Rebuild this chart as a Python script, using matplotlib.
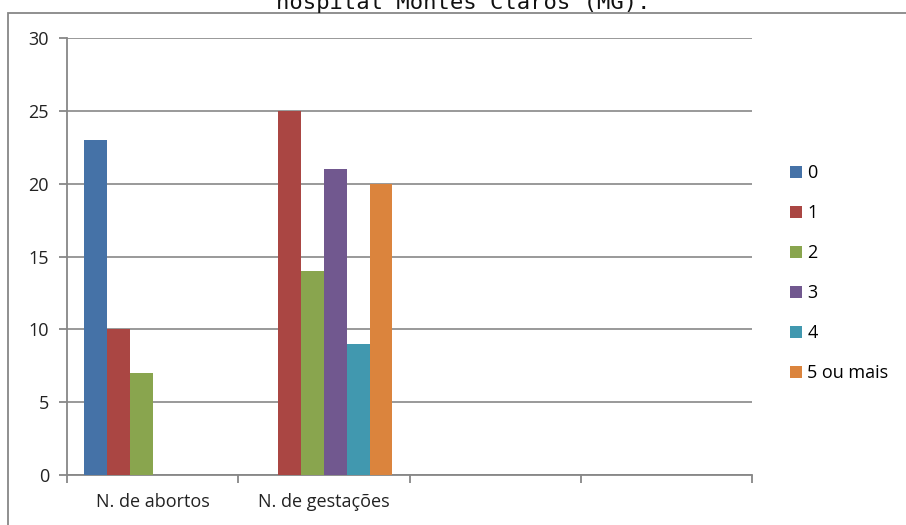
import numpy as np
import matplotlib.pyplot as plt
from matplotlib.patches import Rectangle

# grouped counts per category
categories = ["N. de abortos", "N. de gestações", "", ""]
series_names = ["0", "1", "2", "3", "4", "5 ou mais"]
abortos = [23, 10, 7, 0, 0, 0]
gestacoes = [0, 25, 14, 21, 9, 20]
colors = ["#4572A7", "#AA4643", "#89A54E", "#71588F", "#4198AF", "#DB843D"]
yticks = [0, 5, 10, 15, 20, 25, 30]

grey = "#878787"
plt.rcParams['font.family'] = ['Open Sans', 'DejaVu Sans']
fs = 13

fig = plt.figure(figsize=(9.06, 5.25), dpi=100)
ax = fig.add_axes([67 / 906, 1 - 475 / 525, (752 - 67) / 906, (475 - 38) / 525])

values = np.array([abortos, gestacoes, [0] * 6, [0] * 6], dtype=float)
n = len(series_names)
width = 0.8 / n
x = np.arange(len(categories))
for j, name in enumerate(series_names):
    ax.bar(x + 0.1 + (j + 0.5) * width, values[:, j], width=width,
           color=colors[j], label=name, zorder=3, linewidth=0)

ax.set_xlim(0, 4)
ax.set_ylim(0, 30)
ax.set_yticks(yticks)
ax.set_xticks(np.arange(5))
ax.set_xticklabels([])
ax.set_xticks(x + 0.5, minor=True)
ax.set_xticklabels(categories, minor=True)
ax.tick_params(axis='x', which='minor', length=0, pad=13, labelsize=fs, colors='#222222')
ax.tick_params(axis='x', which='major', length=6, width=1.3, color=grey)
ax.tick_params(axis='y', length=6, width=1.3, color=grey, pad=7, labelsize=fs, labelcolor='#222222')

ax.grid(axis='y', color=grey, linewidth=1.2, zorder=0)
for s in ['top', 'right']:
    ax.spines[s].set_visible(False)
for s in ['left', 'bottom']:
    ax.spines[s].set_color(grey)
    ax.spines[s].set_linewidth(1.3)

fig.legend(loc='center left', bbox_to_anchor=(781 / 906, 1 - 273 / 525),
           frameon=False, fontsize=fs, handlelength=0.65, handleheight=0.65,
           handletextpad=0.3, labelspacing=1.22, borderpad=0)

# outer chart frame
fig.patches.append(Rectangle((8 / 906, -0.1), 1.1, 1 - 13 / 525 + 0.1,
                             transform=fig.transFigure, fill=False,
                             edgecolor=grey, linewidth=1.3, clip_on=False))

fig.text(463 / 906, 1 - 9 / 525, "hospital Montes Claros (MG).", ha='center', va='baseline',
         family='DejaVu Sans Mono', fontsize=16, color='#111111')

fig.savefig("out.png", dpi=100)
